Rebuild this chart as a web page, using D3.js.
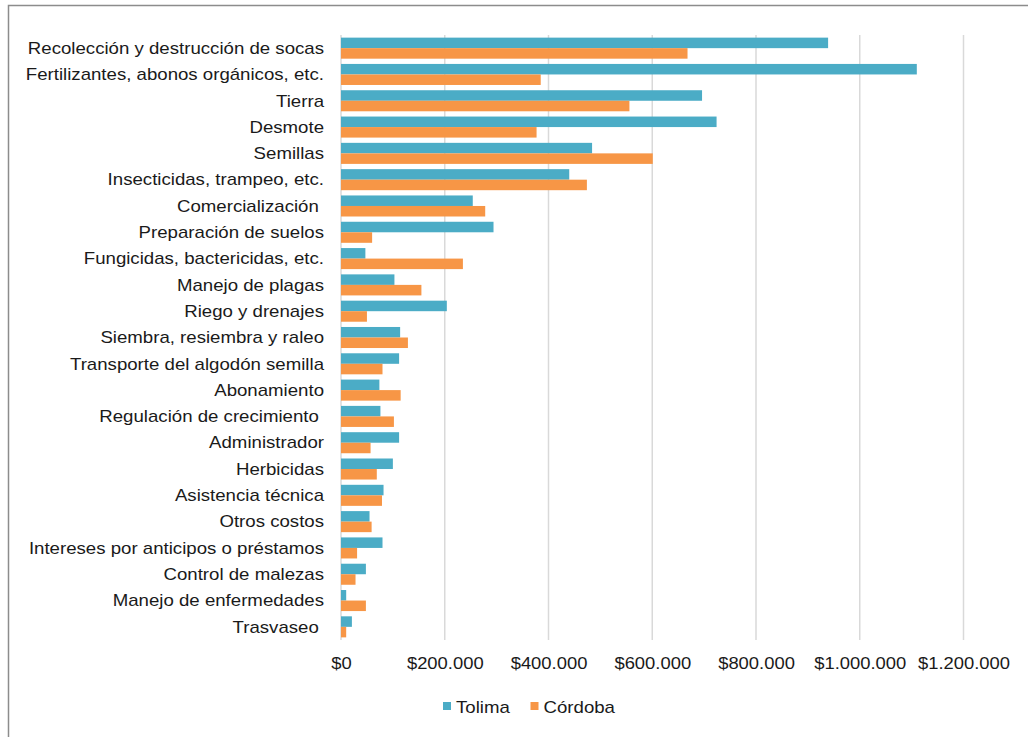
<!DOCTYPE html>
<html>
<head>
<meta charset="utf-8">
<script src="https://cdn.jsdelivr.net/npm/d3@7"></script>
<style>
  html, body { margin: 0; padding: 0; background: #fff; }
  svg { display: block; font-family: "Liberation Sans", Arial, sans-serif; }
  text { white-space: pre; }
</style>
</head>
<body>
<svg id="chart" width="1028" height="737"></svg>
<script>
// Cost items, top to bottom
const categories = [
  "Recolección y destrucción de socas",
  "Fertilizantes, abonos orgánicos, etc.",
  "Tierra",
  "Desmote",
  "Semillas",
  "Insecticidas, trampeo, etc.",
  "Comercialización ",
  "Preparación de suelos",
  "Fungicidas, bactericidas, etc.",
  "Manejo de plagas",
  "Riego y drenajes",
  "Siembra, resiembra y raleo",
  "Transporte del algodón semilla",
  "Abonamiento",
  "Regulación de crecimiento ",
  "Administrador",
  "Herbicidas",
  "Asistencia técnica",
  "Otros costos",
  "Intereses por anticipos o préstamos",
  "Control de malezas",
  "Manejo de enfermedades",
  "Trasvaseo "
];

// Cost per hectare (COP)
const tolima = [
  939000, 1110000, 696000, 724000, 484000, 440000, 254000, 294000,
  47000, 103000, 204000, 114000, 112000, 74000, 76000, 112000,
  100000, 82000, 55000, 80000, 48000, 10000, 21000
];
const cordoba = [
  668000, 385000, 556000, 377000, 601000, 474000, 278000, 60000,
  235000, 155000, 50000, 129000, 80000, 115000, 102000, 57000,
  69000, 79000, 59000, 31000, 28000, 48000, 10000
];

const seriesNames = ["Tolima", "Córdoba"];
const xTicks = [0, 200000, 400000, 600000, 800000, 1000000, 1200000];

const colors = { "Tolima": "#4BACC6", "Córdoba": "#F79646" };

const svg = d3.select("#chart");
const W = 1028, H = 737;
const plot = { left: 341, right: 963.5, top: 35, bottom: 640 };
const labelScale = 1.165;
const textScale = 1.15;

// frame
svg.append("rect")
  .attr("x", 8.5).attr("y", 5.5)
  .attr("width", W + 20).attr("height", H + 20)
  .attr("fill", "#fff")
  .attr("stroke", "#8c8c8c").attr("stroke-width", 1.5);

const x = d3.scaleLinear().domain([0, 1200000]).range([plot.left, plot.right]);
const y = d3.scaleBand().domain(categories).range([plot.top, plot.bottom])
  .paddingInner(0.2).paddingOuter(0.1);
const ySub = d3.scaleBand().domain(seriesNames).range([0, y.bandwidth()]);

// vertical gridlines
svg.append("g").selectAll("line")
  .data(xTicks)
  .join("line")
  .attr("x1", d => x(d)).attr("x2", d => x(d))
  .attr("y1", plot.top).attr("y2", plot.bottom)
  .attr("stroke", "#d9d9d9").attr("stroke-width", 1.5);

// bars
const rows = categories.map((c, i) => ({ c, vals: [tolima[i], cordoba[i]] }));
const groups = svg.append("g").selectAll("g")
  .data(rows)
  .join("g")
  .attr("transform", d => `translate(0,${y(d.c)})`);

groups.selectAll("rect")
  .data(d => d.vals.map((v, k) => ({ s: seriesNames[k], v })))
  .join("rect")
  .attr("x", x(0))
  .attr("y", d => ySub(d.s))
  .attr("width", d => x(d.v) - x(0))
  .attr("height", ySub.bandwidth())
  .attr("fill", d => colors[d.s]);

// category labels
const yAxis = d3.axisLeft(y).tickSize(0).tickPadding(0);
const yg = svg.append("g").attr("transform", `translate(324,0)`).call(yAxis);
yg.select(".domain").remove();
yg.selectAll(".tick text")
  .attr("font-size", 16)
  .attr("font-family", "Liberation Sans, Arial, sans-serif")
  .attr("fill", "#1a1a1a")
  .attr("dy", "0.36em")
  .attr("transform", `scale(${labelScale},1)`);

// x axis labels
const xAxis = d3.axisBottom(x).tickValues(xTicks).tickSize(0).tickPadding(0)
  .tickFormat(d => "$" + d3.format(",")(d).replace(/,/g, "."));
const xg = svg.append("g").attr("transform", `translate(0,657)`).call(xAxis);
xg.select(".domain").remove();
xg.selectAll(".tick text")
  .attr("font-size", 16)
  .attr("font-family", "Liberation Sans, Arial, sans-serif")
  .attr("fill", "#1a1a1a")
  .attr("y", 0).attr("dy", "0.72em")
  .attr("transform", `scale(${textScale},1)`);

// legend
const legendItems = [
  { name: "Tolima", x: 443 },
  { name: "Córdoba", x: 530.5 }
];
const lg = svg.append("g");
legendItems.forEach(it => {
  lg.append("rect")
    .attr("x", it.x).attr("y", 702)
    .attr("width", 8).attr("height", 8)
    .attr("fill", colors[it.name]);
  lg.append("text")
    .attr("transform", `translate(${it.x + 13},713) scale(${labelScale},1)`)
    .attr("font-size", 16)
    .attr("fill", "#1a1a1a")
    .text(it.name);
});
</script>
</body>
</html>
